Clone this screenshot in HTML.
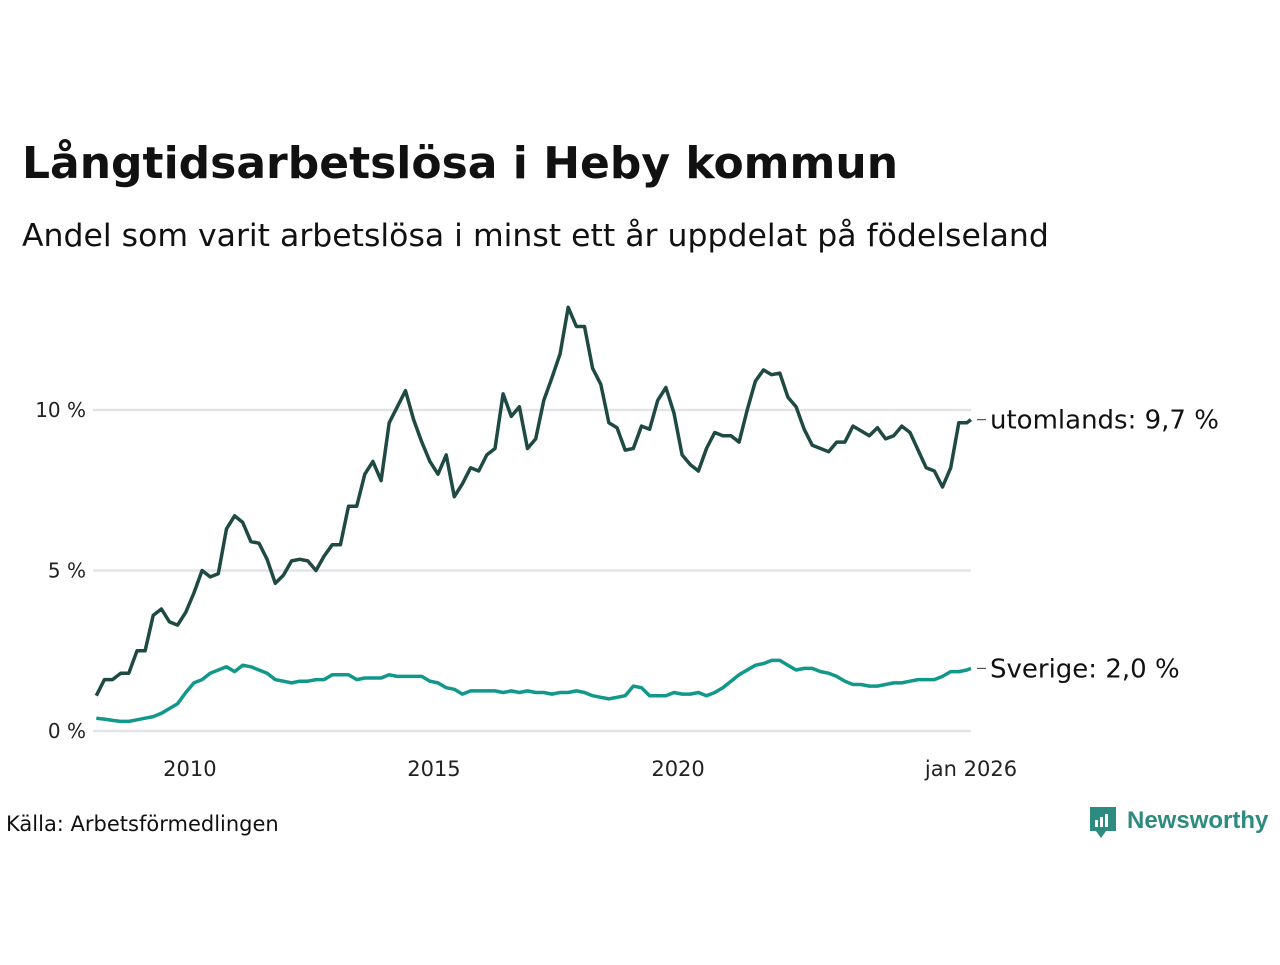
<!DOCTYPE html>
<html><head><meta charset="utf-8"><style>
body{margin:0;background:#fff;width:1280px;height:960px;overflow:hidden;font-family:"Liberation Sans","DejaVu Sans",sans-serif;}
svg text{font-family:"DejaVu Sans","Liberation Sans",sans-serif;}
</style></head><body>
<svg id="chart" width="1280" height="960" xmlns="http://www.w3.org/2000/svg">
<text x="22" y="178" font-size="44" font-weight="bold" fill="#111">Långtidsarbetslösa i Heby kommun</text>
<text x="22" y="246" font-size="31.5" fill="#111">Andel som varit arbetslösa i minst ett år uppdelat på födelseland</text>
<g id="grid"></g>
<g id="lines"></g>
<text x="6" y="831" font-size="21" fill="#111">Källa: Arbetsförmedlingen</text>
<g>
<path d="M1090 807h26v24h-10l-5 7-5-7h-6z" fill="#2e8b7f"/>
<rect x="1095" y="820" width="3" height="7" fill="#fff"/><rect x="1100" y="817" width="3" height="10" fill="#fff"/><rect x="1105" y="814" width="3" height="13" fill="#fff"/>
<text x="1127" y="828" font-size="24" font-weight="bold" fill="#2e8b7f" style="font-family:'Liberation Sans',sans-serif">Newsworthy</text>
</g>
</svg>
<script>
const months=[];for(let m=1;m<=215;m+=2)months.push(m);months.push(216);
const foreignVals=[1.1,1.6,1.6,1.8,1.8,2.5,2.5,3.6,3.8,3.4,3.3,3.7,4.3,5.0,4.8,4.9,6.3,6.7,6.5,5.9,5.85,5.35,4.6,4.85,5.3,5.35,5.3,5.0,5.45,5.8,5.8,7.0,7.0,8.0,8.4,7.8,9.6,10.1,10.6,9.7,9.0,8.4,8.0,8.6,7.3,7.7,8.2,8.1,8.6,8.8,10.5,9.8,10.1,8.8,9.1,10.3,11.0,11.75,13.2,12.6,12.6,11.3,10.8,9.6,9.45,8.75,8.8,9.5,9.4,10.3,10.7,9.9,8.6,8.3,8.1,8.8,9.3,9.2,9.2,9.0,10.0,10.9,11.25,11.1,11.15,10.4,10.1,9.4,8.9,8.8,8.7,9.0,9.0,9.5,9.35,9.2,9.45,9.1,9.2,9.5,9.3,8.75,8.2,8.1,7.6,8.2,9.6,9.6,9.7];
const swedenVals=[0.4,0.37,0.33,0.3,0.3,0.35,0.4,0.45,0.55,0.7,0.85,1.2,1.5,1.6,1.8,1.9,2.0,1.85,2.05,2.0,1.9,1.8,1.6,1.55,1.5,1.55,1.55,1.6,1.6,1.75,1.75,1.75,1.6,1.65,1.65,1.65,1.75,1.7,1.7,1.7,1.7,1.55,1.5,1.35,1.3,1.15,1.25,1.25,1.25,1.25,1.2,1.25,1.2,1.25,1.2,1.2,1.15,1.2,1.2,1.25,1.2,1.1,1.05,1.0,1.05,1.1,1.4,1.35,1.1,1.1,1.1,1.2,1.15,1.15,1.2,1.1,1.2,1.35,1.55,1.75,1.9,2.05,2.1,2.2,2.2,2.05,1.9,1.95,1.95,1.85,1.8,1.7,1.55,1.45,1.45,1.4,1.4,1.45,1.5,1.5,1.55,1.6,1.6,1.6,1.7,1.85,1.85,1.9,1.95];
const yTicks=[0,5,10];
const yTickLabels=["0 %","5 %","10 %"];
const xTicks=[24,84,144,216];
const xTickLabels=["2010","2015","2020","jan 2026"];
const seriesLabels=["utomlands: 9,7 %","Sverige: 2,0 %"];
const NS="http://www.w3.org/2000/svg";
const x=m=>92.2+m*(971-92.2)/216;
const y=v=>731-v*32.1;
const grid=document.getElementById('grid'),lines=document.getElementById('lines');
function mk(t,a,p){const e=document.createElementNS(NS,t);for(const k in a)e.setAttribute(k,a[k]);p.appendChild(e);return e;}
yTicks.forEach((t,i)=>{
 const l=mk('line',{x1:93,x2:971,y1:y(t),y2:y(t),stroke:'#e3e3e8','stroke-width':2.5},grid);
 
 
 const tx=mk('text',{x:86,y:y(t)+7,'font-size':20,'text-anchor':'end',fill:'#222'},grid);tx.textContent=yTickLabels[i];
 
 
});
xTicks.forEach((t,i)=>{
 const tx=mk('text',{x:x(t),y:776,'font-size':21,'text-anchor':'middle',fill:'#222'},grid);tx.textContent=xTickLabels[i];
 
 
});
function draw(vals,col,name,label){
 const d=vals.map((v,i)=>(i?'L':'M')+x(months[i]).toFixed(1)+' '+y(v).toFixed(1)).join('');
 const p=mk('path',{d:d,fill:'none',stroke:col,'stroke-width':3.5,'stroke-linejoin':'round'},lines);
 
 
 const lv=y(vals[vals.length-1]);
 mk('line',{x1:977,x2:986,y1:lv,y2:lv,stroke:'#555','stroke-width':1.2},lines);
 const t=mk('text',{x:990,y:lv+9,'font-size':26,fill:'#111'},lines);t.textContent=label;
 
 
}
draw(swedenVals,'#12988a','sweden-line',seriesLabels[1]);
draw(foreignVals,'#1f4a43','foreign-line',seriesLabels[0]);
</script>
</body></html>
